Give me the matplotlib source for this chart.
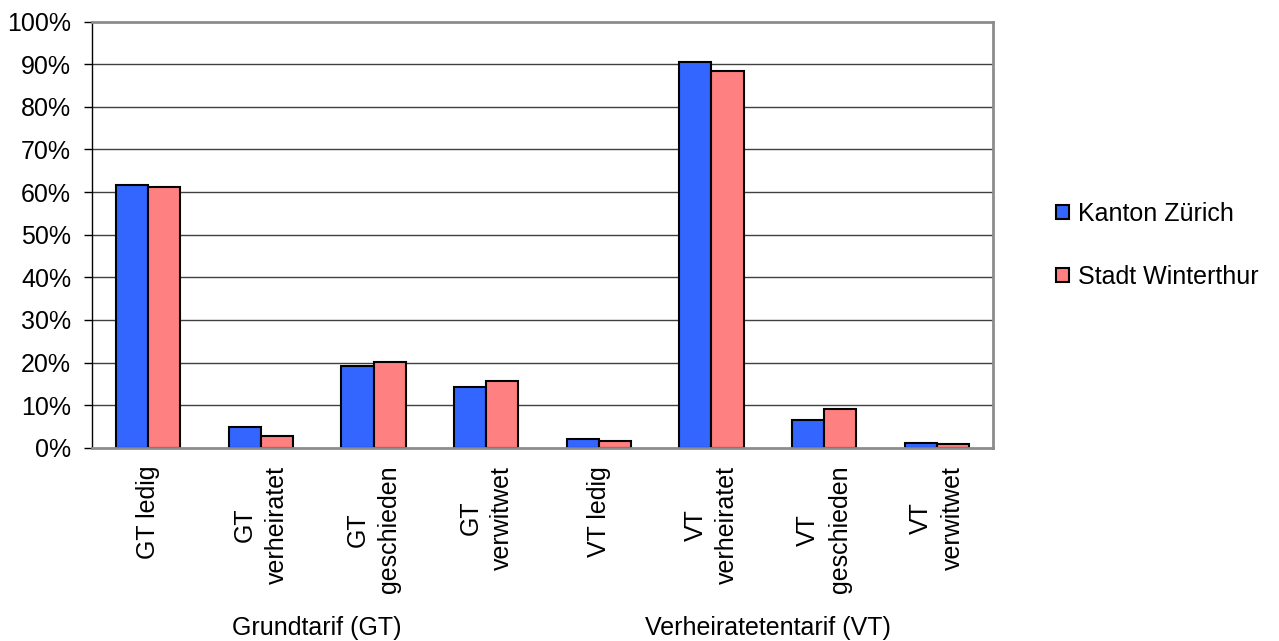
import matplotlib
matplotlib.use("Agg")
import matplotlib.pyplot as plt
import matplotlib.transforms as mtransforms
from matplotlib.patches import Patch
import numpy as np

plt.rcParams['font.family'] = ['Liberation Sans', 'DejaVu Sans']

categories = ["GT ledig", "GT\nverheiratet", "GT\ngeschieden", "GT\nverwitwet",
              "VT ledig", "VT\nverheiratet", "VT\ngeschieden", "VT\nverwitwet"]
groups = ["Grundtarif (GT)", "Verheiratetentarif (VT)"]
group_members = [4, 4]
series_names = ["Kanton Zürich", "Stadt Winterthur"]
kanton = [61.6, 4.9, 19.2, 14.2, 2.0, 90.5, 6.6, 1.0]
winterthur = [61.3, 2.8, 20.2, 15.7, 1.65, 88.5, 9.1, 0.87]
yticks = [0, 10, 20, 30, 40, 50, 60, 70, 80, 90, 100]

colors = ["#3366FF", "#FF8080"]

fig = plt.figure(figsize=(12.79, 6.41), dpi=100)
ax = fig.add_axes([92/1279, 1 - 447.7/641, (993 - 92)/1279, (447.7 - 21.7)/641])

x = np.arange(len(categories))
w = 1/3.5
ax.bar(x - w/2, kanton, width=w, color=colors[0], edgecolor="black", linewidth=1.5, zorder=3)
ax.bar(x + w/2, winterthur, width=w, color=colors[1], edgecolor="black", linewidth=1.5, zorder=3)

ax.set_xlim(-0.5, len(categories) - 0.5)
ax.set_ylim(0, 100)
ax.set_yticks(yticks)
ax.set_yticklabels([f"{v}%" for v in yticks], fontsize=18)
ax.set_xticks(x)
ax.set_xticklabels(categories, rotation=90, fontsize=18, va='top', ha='center',
                   multialignment='center', linespacing=1.4)
ax.tick_params(axis='x', length=0, pad=13)
ax.tick_params(axis='y', length=6, width=1, pad=9, direction='out', color='black')

for v in yticks[1:-1]:
    ax.axhline(v, color="#404040", linewidth=1.0, zorder=1)

ax.spines['left'].set_color('black')
ax.spines['left'].set_linewidth(1.0)
for s in ['top', 'right', 'bottom']:
    ax.spines[s].set_color('#8c8c8c')
    ax.spines[s].set_linewidth(2.0)
ax.spines['bottom'].set_zorder(4)

trans = mtransforms.blended_transform_factory(ax.transData, fig.transFigure)
start = 0
for g, n in zip(groups, group_members):
    cx = start + (n - 1) / 2
    ax.text(cx, 1 - 628/641, g, transform=trans, ha='center', va='center', fontsize=18)
    start += n

handles = [Patch(facecolor=c, edgecolor='black', linewidth=1.5) for c in colors]
fig.legend(handles, series_names, loc='center left', bbox_to_anchor=(1056/1279, 1 - 245.5/641),
           frameon=False, fontsize=18, handlelength=0.5, handleheight=0.5,
           handletextpad=0.38, labelspacing=1.55, borderpad=0, borderaxespad=0)

fig.savefig("out.png", dpi=100)
